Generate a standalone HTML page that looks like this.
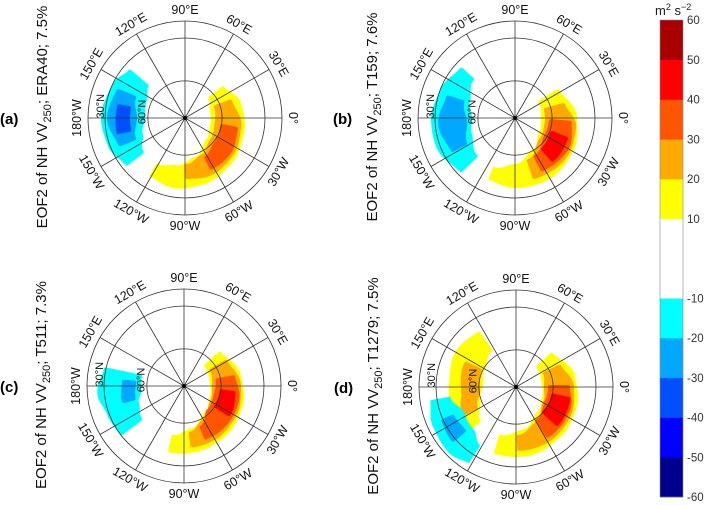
<!DOCTYPE html>
<html><head><meta charset="utf-8"><style>
html,body{margin:0;padding:0;background:#fff;}
svg{display:block;font-family:"Liberation Sans",sans-serif;}
</style></head><body>
<svg id="fig" width="709" height="505" viewBox="0 0 709 505" xmlns="http://www.w3.org/2000/svg">
<g id="panels"></g>
<g id="cbar"></g>
</svg>
<script>
const levels = [-60,-50,-40,-30,-20,-10,10,20,30,40,50,60];
const levelColors = ['#00008c','#0000ff','#0050ff','#00a8ff','#00ffff','#ffffff','#ffff00','#ffaa00','#ff5500','#ff0000','#a80000'];
const lonTicks = [0,30,60,90,120,150,180,-150,-120,-90,-60,-30];
const lonLabels = ['0°','30°E','60°E','90°E','120°E','150°E','180°W','150°W','120°W','90°W','60°W','30°W'];
const latRings = [20,30,60];
const panelNames = ['a','b','c','d'];
const panelTitles = ['ERA40;  7.5%','T159;  7.6%','T511;  7.3%','T1279;  7.5%'];
const panelCenters = [[185,118],[515,118],[184,386],[516,387]];
// blobs: [value, [[lon, inner radius, outer radius]]...]
const blobsA = [
 [-15,[[140,50,72],[155,44,78],[180,42,82],[200,47,80],[218,55,74]]],
 [-25,[[158,55,72],[180,50,76],[202,55,70]]],
 [-35,[[170,57,67],[192,57,68]]],
 [15,[[38,32,48],[15,28,56],[-15,28,59],[-45,32,63],[-75,42,67],[-100,50,69],[-120,55,66]]],
 [25,[[20,33,48],[-10,32,55],[-40,35,59],[-65,42,61],[-88,48,59]]],
 [35,[[-12,38,52],[-40,40,56],[-62,45,56]]]
];
const blobsB = [
 [-15,[[138,58,72],[160,50,78],[180,45,82],[200,48,82],[224,55,75]]],
 [-25,[[163,55,70],[185,50,75],[207,56,70]]],
 [15,[[32,30,50],[0,28,60],[-30,30,65],[-60,38,68],[-90,48,68],[-112,55,65]]],
 [25,[[15,32,50],[-10,32,60],[-40,34,63],[-72,45,62]]],
 [35,[[-5,36,55],[-30,36,60],[-62,44,58]]],
 [45,[[-22,40,55],[-48,42,56]]]
];
const blobsC = [
 [-15,[[168,45,80],[185,45,85],[200,50,80],[217,55,78]]],
 [-25,[[176,50,60],[194,52,62]]],
 [15,[[42,30,48],[10,28,56],[-20,30,60],[-50,35,63],[-80,45,65],[-102,52,66]]],
 [25,[[30,32,48],[0,30,55],[-30,32,58],[-60,40,60],[-82,48,60]]],
 [35,[[10,34,50],[-15,33,55],[-45,35,56],[-67,45,56]]],
 [45,[[-8,38,50],[-32,38,53]]]
];
const blobsD = [
 [15,[[125,45,65],[150,38,68],[175,35,65],[200,40,66],[222,50,70]]],
 [25,[[155,40,55],[185,38,53],[207,45,58]]],
 [-15,[[190,68,85],[205,60,90],[225,62,92],[237,70,88]]],
 [-25,[[205,70,80],[220,68,82]]],
 [15,[[42,30,48],[10,28,58],[-20,30,62],[-50,35,65],[-80,45,68],[-107,52,68]]],
 [25,[[25,32,48],[0,30,56],[-30,33,60],[-60,42,62],[-87,50,62]]],
 [35,[[0,34,52],[-25,34,57],[-57,40,58]]],
 [45,[[-13,38,54],[-42,38,55]]]
];
const panelBlobs = [blobsA,blobsB,blobsC,blobsD];

const NS='http://www.w3.org/2000/svg';
const R0 = 97;
function rOfLat(lat){ return R0*Math.tan((90-lat)/2*Math.PI/180)/Math.tan(35*Math.PI/180); }
function polar(c, lon, r){ const a=lon*Math.PI/180; return [c[0]+r*Math.cos(a), c[1]-r*Math.sin(a)]; }
function colorOf(v){ for(let i=0;i<levels.length-1;i++){ if(v>=levels[i]&&v<levels[i+1]) return levelColors[i]; } return levelColors[levelColors.length-1]; }
function mk(tag, attrs, parent){ const e=document.createElementNS(NS,tag); for(const k in attrs) e.setAttribute(k,attrs[k]); parent.appendChild(e); return e; }
function blobPath(c, samples){
  const outer=[], inner=[];
  for(let i=0;i<samples.length-1;i++){
    const s=samples[i], t=samples[i+1];
    for(let k=0;k<16;k++){ const f=k/16; const g=(1-Math.cos(Math.PI*f))/2; const lon=s[0]+(t[0]-s[0])*f;
      outer.push(polar(c,lon,s[2]+(t[2]-s[2])*g)); inner.push(polar(c,lon,s[1]+(t[1]-s[1])*g)); }
  }
  const l=samples[samples.length-1]; outer.push(polar(c,l[0],l[2])); inner.push(polar(c,l[0],l[1]));
  const pts=outer.concat(inner.reverse());
  return 'M'+pts.map(p=>p[0].toFixed(1)+','+p[1].toFixed(1)).join('L')+'Z';
}
const panelsG=document.getElementById('panels');
panelNames.forEach((nm,pi)=>{
  const c=panelCenters[pi];
  const g=mk('g',{},panelsG);
  
  
  panelBlobs[pi].forEach(b=>{
    const p=mk('path',{d:blobPath(c,b[1]),fill:colorOf(b[0]),stroke:colorOf(b[0]),'stroke-width':4,'stroke-linejoin':'round'},g);
    
    
  });
  latRings.forEach(lat=>{
    const ci=mk('circle',{cx:c[0],cy:c[1],r:rOfLat(lat),fill:'none',stroke:'#333','stroke-width':0.8},g);
    
    
  });
  lonTicks.forEach((lon,i)=>{
    const e=polar(c,lon,R0);
    const ln=mk('line',{x1:c[0],y1:c[1],x2:e[0],y2:e[1],stroke:'#333','stroke-width':0.8},g);
    
    
    const p=polar(c,lon,R0+11);
    let rot = (lon>=0)? 90-lon : -90-lon;
    if(lon===180) rot=-90;
    const t=mk('text',{x:p[0],y:p[1],'font-size':12.5,'text-anchor':'middle','dominant-baseline':'central',fill:'#111',transform:`rotate(${rot} ${p[0]} ${p[1]})`},g);
    t.textContent=lonLabels[i];
    
    
  });
  [[30,rOfLat(30)+5],[60,rOfLat(60)+6]].forEach(q=>{
    const p=polar(c,172,q[1]);
    const t=mk('text',{x:p[0],y:p[1],'font-size':11,'text-anchor':'middle','dominant-baseline':'central',fill:'#111',transform:`rotate(-90 ${p[0]} ${p[1]})`},g);
    t.textContent=q[0]+'°N';
    
    
  });
  const dot=mk('circle',{cx:c[0],cy:c[1],r:2,fill:'#000'},g);
  
  
  const tx=c[0]-138, ty=c[1]-1;
  const tt=mk('text',{x:tx,y:ty,'font-size':15,'text-anchor':'middle',fill:'#111',transform:`rotate(-90 ${tx} ${ty})`},g);
  tt.innerHTML='EOF2 of NH VV<tspan font-size="11" dy="4">250</tspan><tspan dy="-4">;  '+panelTitles[pi]+'</tspan>';
  
  
  const lb=mk('text',{x:(pi%2? c[0]-182 : 0),y:c[1]+6,'font-size':15,'font-weight':'bold',fill:'#000'},g);
  lb.textContent='('+nm+')';
  
  
});
// colorbar
const cb=document.getElementById('cbar');
const cbX=660, cbW=23, cbTop=20, cbBot=497;
function yOf(v){ return cbBot-(v-levels[0])/(levels[levels.length-1]-levels[0])*(cbBot-cbTop); }
for(let i=0;i<levels.length-1;i++){
  const r=mk('rect',{x:cbX,y:yOf(levels[i+1]),width:cbW,height:yOf(levels[i])-yOf(levels[i+1])+0.3,fill:levelColors[i]},cb);
  
  
}
const fr=mk('rect',{x:cbX,y:cbTop,width:cbW,height:cbBot-cbTop,fill:'none',stroke:'#888','stroke-width':0.6},cb);


levels.forEach(v=>{
  const t=mk('text',{x:cbX+cbW+4,y:yOf(v)+4,'font-size':11.5,fill:'#333'},cb);
  t.textContent=v;
  
  
});
const u=mk('text',{x:655,y:15,'font-size':13,fill:'#222'},cb);
u.innerHTML='m<tspan font-size="9" dy="-5">2</tspan><tspan dy="5"> s</tspan><tspan font-size="9" dy="-5">−2</tspan>';


</script>
</body></html>
